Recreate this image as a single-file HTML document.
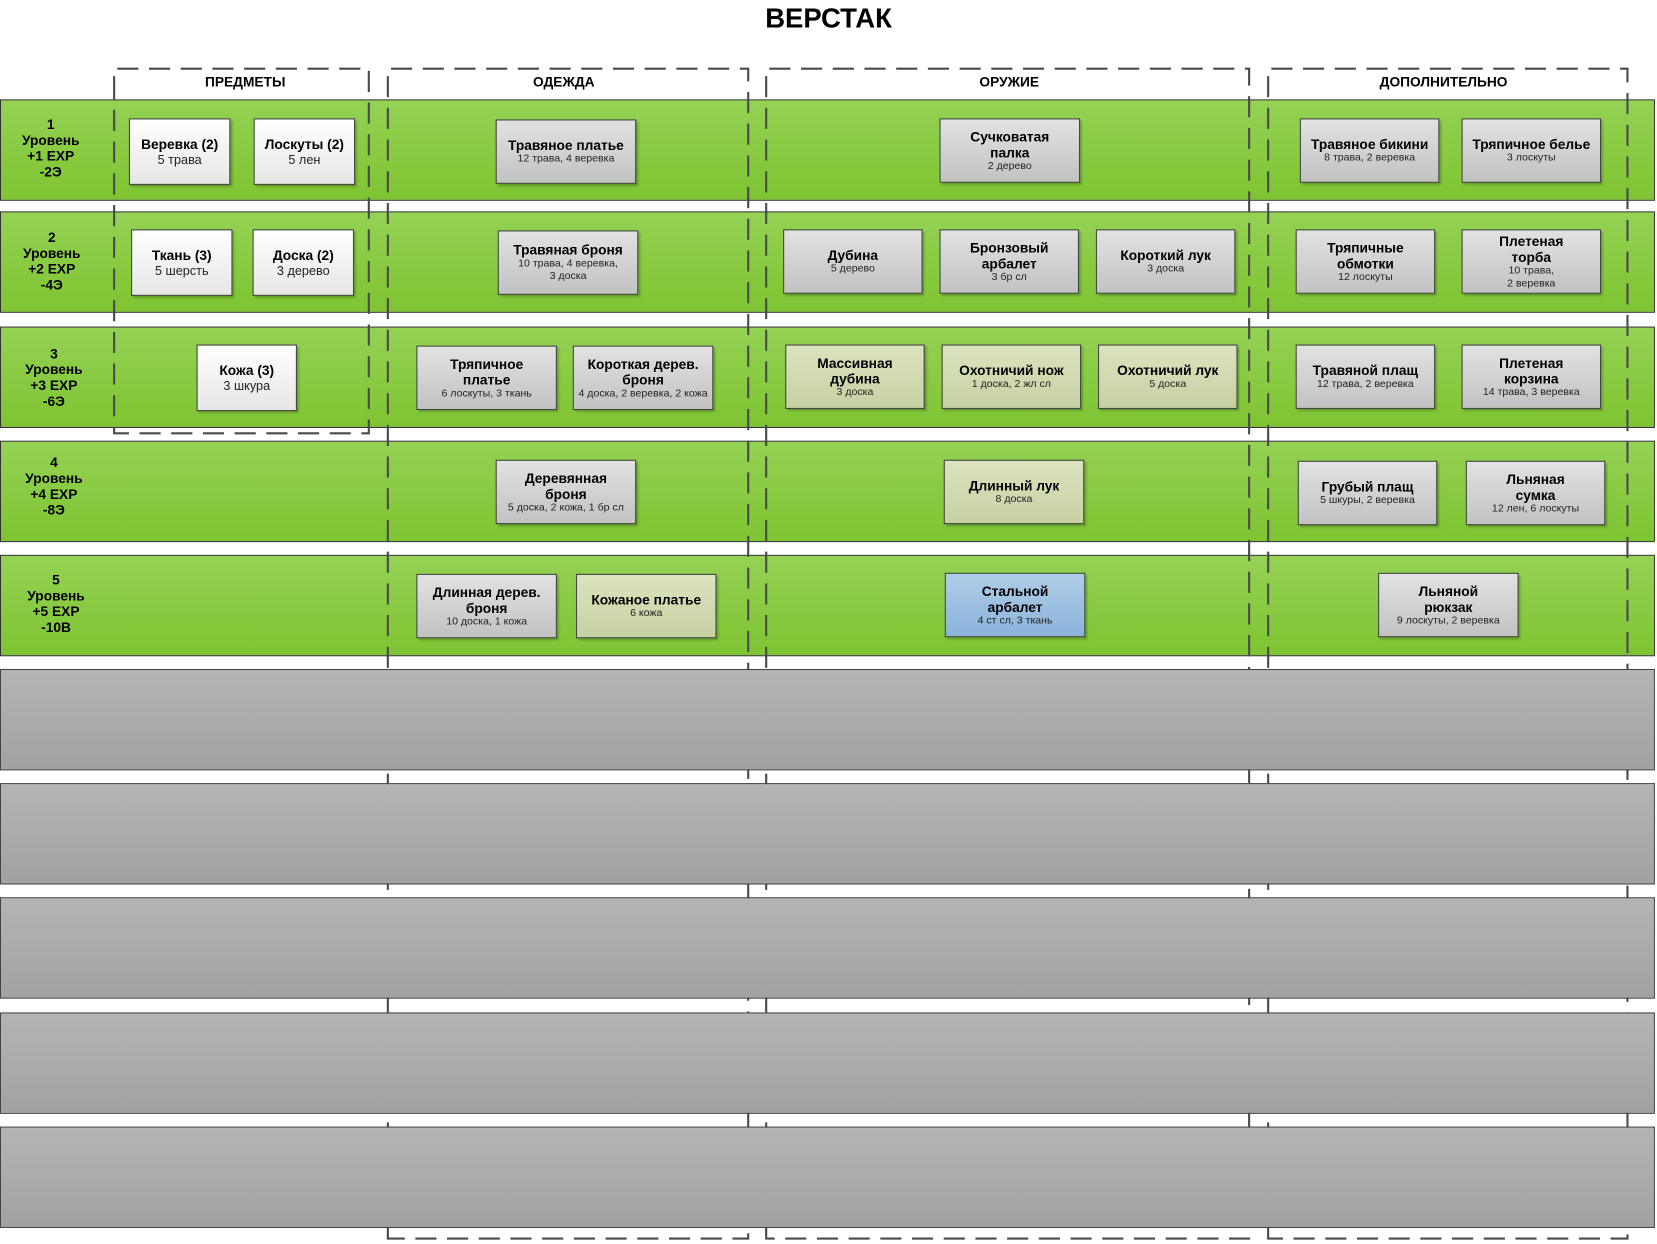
<!DOCTYPE html>
<html><head><meta charset="utf-8"><style>
html,body{margin:0;padding:0;background:#fff;width:1657px;height:1244px;overflow:hidden}
#w{position:absolute;left:0;top:0;width:1568px;height:1177px;transform:scale(1.0568);transform-origin:0 0;font-family:"Liberation Sans","DejaVu Sans",sans-serif}
.t{position:absolute;left:0;width:1568px;top:2px;text-align:center;font-weight:bold;font-size:26px;color:#000}
.row{position:absolute;left:0;width:1566px;height:96px;border:1px solid #333;box-sizing:border-box}
.g{background:linear-gradient(#94d254,#7ec432)}
.gr{background:linear-gradient(#b4b4b4,#a2a2a2);border-color:#444;z-index:2}
.lv{position:absolute;width:96px;text-align:center;font-weight:bold;font-size:13px;line-height:15px;color:#000}
.h{position:absolute;top:70px;font-weight:bold;font-size:13px;text-align:center}
.b{position:absolute;box-sizing:border-box;border:1px solid #444;display:flex;flex-direction:column;justify-content:center;align-items:center;text-align:center;box-shadow:2px 2px 2px rgba(0,0,0,.25)}
.b b{font-size:13px;line-height:15px}
.b span{font-size:10px;line-height:12px;color:#222}
.w{background:linear-gradient(#fff,#e6e6e6)}.w span{font-size:12px;line-height:15px}
.s{background:linear-gradient(#e2e2e2,#c2c2c2)}
.o{background:linear-gradient(#dce3c0,#c6d1a2)}
.u{background:linear-gradient(#b0cde8,#8ab3da)}
svg{position:absolute;left:0;top:0;z-index:1}
</style></head><body><div id="w">
<div class="t">ВЕРСТАК</div>
<div class="row g" style="top:94px"></div>
<div class="row g" style="top:200px"></div>
<div class="row g" style="top:309px"></div>
<div class="row g" style="top:417px"></div>
<div class="row g" style="top:525px"></div>
<div class="row gr" style="top:633px"></div>
<div class="row gr" style="top:741px"></div>
<div class="row gr" style="top:849px"></div>
<div class="row gr" style="top:958px"></div>
<div class="row gr" style="top:1066px"></div>
<svg width="1568" height="1177"><g fill="none" stroke="#4a4a4a" stroke-width="2" stroke-dasharray="20,10">
<path d="M108,92 L108,65 L349,65 L349,410 L108,410 L108,92"/>
<path d="M367,1172 L367,65 L708,65 L708,1172 Z"/>
<path d="M725,1172 L725,65 L1182,65 L1182,1172 Z"/>
<path d="M1200,1172 L1200,65 L1540,65 L1540,1172 Z"/>
</g></svg>
<div class="h" style="left:108px;width:248px">ПРЕДМЕТЫ</div>
<div class="h" style="left:367px;width:333px">ОДЕЖДА</div>
<div class="h" style="left:725px;width:460px">ОРУЖИЕ</div>
<div class="h" style="left:1200px;width:332px">ДОПОЛНИТЕЛЬНО</div>
<div class="lv" style="left:0;top:110px;z-index:3">1<br>Уровень<br>+1 EXP<br>-2Э</div>
<div class="lv" style="left:1px;top:217px;z-index:3">2<br>Уровень<br>+2 EXP<br>-4Э</div>
<div class="lv" style="left:3px;top:327px;z-index:3">3<br>Уровень<br>+3 EXP<br>-6Э</div>
<div class="lv" style="left:3px;top:430px;z-index:3">4<br>Уровень<br>+4 EXP<br>-8Э</div>
<div class="lv" style="left:5px;top:541px;z-index:3">5<br>Уровень<br>+5 EXP<br>-10В</div>

<div style="position:relative;z-index:3">
<div class="b w" style="left:122px;top:112px;width:96px;height:63px"><b>Веревка (2)</b><span>5 трава</span></div>
<div class="b w" style="left:240px;top:112px;width:96px;height:63px"><b>Лоскуты (2)</b><span>5 лен</span></div>
<div class="b s" style="left:469px;top:113px;width:133px;height:61px"><b>Травяное платье</b><span>12 трава, 4 веревка</span></div>
<div class="b s" style="left:889px;top:112px;width:133px;height:61px"><b>Сучковатая<br>палка</b><span>2 дерево</span></div>
<div class="b s" style="left:1230px;top:112px;width:132px;height:61px"><b>Травяное бикини</b><span>8 трава, 2 веревка</span></div>
<div class="b s" style="left:1383px;top:112px;width:132px;height:61px"><b>Тряпичное белье</b><span>3 лоскуты</span></div>

<div class="b w" style="left:124px;top:217px;width:96px;height:63px"><b>Ткань (3)</b><span>5 шерсть</span></div>
<div class="b w" style="left:239px;top:217px;width:96px;height:63px"><b>Доска (2)</b><span>3 дерево</span></div>
<div class="b s" style="left:471px;top:218px;width:133px;height:61px"><b>Травяная броня</b><span>10 трава, 4 веревка,<br>3 доска</span></div>
<div class="b s" style="left:741px;top:217px;width:132px;height:61px"><b>Дубина</b><span>5 дерево</span></div>
<div class="b s" style="left:889px;top:217px;width:132px;height:61px"><b>Бронзовый<br>арбалет</b><span>3 бр сл</span></div>
<div class="b s" style="left:1037px;top:217px;width:132px;height:61px"><b>Короткий лук</b><span>3 доска</span></div>
<div class="b s" style="left:1226px;top:217px;width:132px;height:61px"><b>Тряпичные<br>обмотки</b><span>12 лоскуты</span></div>
<div class="b s" style="left:1383px;top:217px;width:132px;height:61px"><b>Плетеная<br>торба</b><span>10 трава,<br>2 веревка</span></div>

<div class="b w" style="left:186px;top:326px;width:95px;height:63px"><b>Кожа (3)</b><span>3 шкура</span></div>
<div class="b s" style="left:394px;top:327px;width:133px;height:61px"><b>Тряпичное<br>платье</b><span>6 лоскуты, 3 ткань</span></div>
<div class="b s" style="left:542px;top:327px;width:133px;height:61px"><b>Короткая дерев.<br>броня</b><span>4 доска, 2 веревка, 2 кожа</span></div>
<div class="b o" style="left:743px;top:326px;width:132px;height:61px"><b>Массивная<br>дубина</b><span>3 доска</span></div>
<div class="b o" style="left:891px;top:326px;width:132px;height:61px"><b>Охотничий нож</b><span>1 доска, 2 жл сл</span></div>
<div class="b o" style="left:1039px;top:326px;width:132px;height:61px"><b>Охотничий лук</b><span>5 доска</span></div>
<div class="b s" style="left:1226px;top:326px;width:132px;height:61px"><b>Травяной плащ</b><span>12 трава, 2 веревка</span></div>
<div class="b s" style="left:1383px;top:326px;width:132px;height:61px"><b>Плетеная<br>корзина</b><span>14 трава, 3 веревка</span></div>

<div class="b s" style="left:469px;top:435px;width:133px;height:61px"><b>Деревянная<br>броня</b><span>5 доска, 2 кожа, 1 бр сл</span></div>
<div class="b o" style="left:893px;top:435px;width:133px;height:61px"><b>Длинный лук</b><span>8 доска</span></div>
<div class="b s" style="left:1228px;top:436px;width:132px;height:61px"><b>Грубый плащ</b><span>5 шкуры, 2 веревка</span></div>
<div class="b s" style="left:1387px;top:436px;width:132px;height:61px"><b>Льняная<br>сумка</b><span>12 лен, 6 лоскуты</span></div>

<div class="b s" style="left:394px;top:543px;width:133px;height:61px"><b>Длинная дерев.<br>броня</b><span>10 доска, 1 кожа</span></div>
<div class="b o" style="left:545px;top:543px;width:133px;height:61px"><b>Кожаное платье</b><span>6 кожа</span></div>
<div class="b u" style="left:894px;top:542px;width:133px;height:61px"><b>Стальной<br>арбалет</b><span>4 ст сл, 3 ткань</span></div>
<div class="b s" style="left:1304px;top:542px;width:133px;height:61px"><b>Льняной<br>рюкзак</b><span>9 лоскуты, 2 веревка</span></div>
</div>
</div></body></html>
